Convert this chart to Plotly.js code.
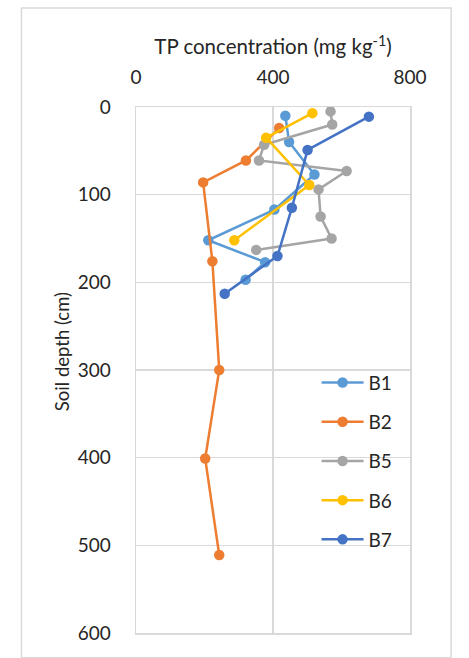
<!DOCTYPE html>
<html>
<head>
<meta charset="utf-8">
<script src="https://cdn.plot.ly/plotly-3.0.1.min.js"></script>
<style>html,body{margin:0;padding:0;background:#fff;}#chart{width:469px;height:658px;}</style>
</head>
<body>
<div id="chart"></div>
<script>
const seriesNames = ["B1", "B2", "B5", "B6", "B7"];
const seriesColors = ["#5B9BD5", "#ED7D31", "#A5A5A5", "#FFC000", "#4472C4"];

const b1TP = [436, 447, 521, 404, 211, 377, 320];
const b1Depth = [10, 40, 77, 117, 152, 177, 197];

const b2TP = [418, 321, 196, 223, 243, 202, 243];
const b2Depth = [24, 61, 86, 176, 300, 401, 511];

const b5TP = [568, 573, 374, 359, 615, 533, 539, 571, 351];
const b5Depth = [5, 20, 43, 61, 73, 94, 125, 150, 163];

const b6TP = [515, 380, 506, 287];
const b6Depth = [7, 35, 89, 152];

const b7TP = [680, 501, 455, 413, 259];
const b7Depth = [11, 49, 115, 170, 213];

const xTickVals = [0, 400, 800];
const yTickVals = [0, 100, 200, 300, 400, 500, 600];

const xTitle = "TP concentration (mg kg<sup>-1</sup>)";
const yTitle = "Soil depth (cm)";

const allX = [b1TP, b2TP, b5TP, b6TP, b7TP];
const allY = [b1Depth, b2Depth, b5Depth, b6Depth, b7Depth];

const FONT = "Lato, 'Liberation Sans', sans-serif";
const TXT = "#262626";
const traces = seriesNames.map((n, i) => ({
  type: "scatter",
  mode: "lines+markers",
  name: n,
  legendgroup: n,
  x: allX[i],
  y: allY[i],
  line: {color: seriesColors[i], width: 2.5},
  marker: {color: seriesColors[i], size: 10.5, symbol: "circle"}
}));

const layout = {
  width: 469,
  height: 658,
  margin: {l: 136, r: 59, t: 106.5, b: 25},
  paper_bgcolor: "#ffffff",
  plot_bgcolor: "#ffffff",
  font: {family: FONT, size: 19, color: TXT},
  showlegend: true,
  legend: {
    x: 0.659, y: 0.512, xanchor: "left", yanchor: "top",
    font: {family: FONT, size: 19, color: TXT},
    bgcolor: "rgba(255,255,255,0)",
    traceorder: "grouped",
    tracegroupgap: 11.5,
    itemwidth: 42
  },
  xaxis: {
    side: "top",
    range: [0, 800],
    tickvals: xTickVals,
    ticktext: xTickVals.map(String),
    showgrid: true,
    gridcolor: "#D9D9D9",
    gridwidth: 1.5,
    showline: true,
    linecolor: "#D9D9D9",
    linewidth: 1.5,
    mirror: true,
    zeroline: false,
    ticks: "",
    ticklabelstandoff: 14,
    tickfont: {family: FONT, size: 19, color: TXT},
    title: {text: xTitle, font: {family: FONT, size: 20.5, color: TXT}, standoff: 4}
  },
  yaxis: {
    range: [600, 0],
    tickvals: yTickVals,
    ticktext: yTickVals.map(String),
    showgrid: true,
    gridcolor: "#D9D9D9",
    gridwidth: 1.5,
    showline: true,
    linecolor: "#D9D9D9",
    linewidth: 1.5,
    mirror: true,
    zeroline: false,
    ticks: "",
    ticklabelstandoff: 20,
    tickfont: {family: FONT, size: 19, color: TXT}
  },
  annotations: [{
    text: yTitle, xref: "paper", yref: "paper",
    x: -0.270, y: 0.534, xanchor: "center", yanchor: "middle",
    textangle: -90, showarrow: false,
    font: {family: FONT, size: 18.5, color: TXT}
  }],
  shapes: [{
    type: "rect", xref: "paper", yref: "paper",
    x0: -0.418, x1: 1.150, y0: -0.047, y1: 1.188,
    line: {color: "#D9D9D9", width: 1.5}, fillcolor: "rgba(0,0,0,0)", layer: "below"
  }]
};

Plotly.newPlot("chart", traces, layout, {displayModeBar: false, staticPlot: true});
</script>
</body>
</html>
